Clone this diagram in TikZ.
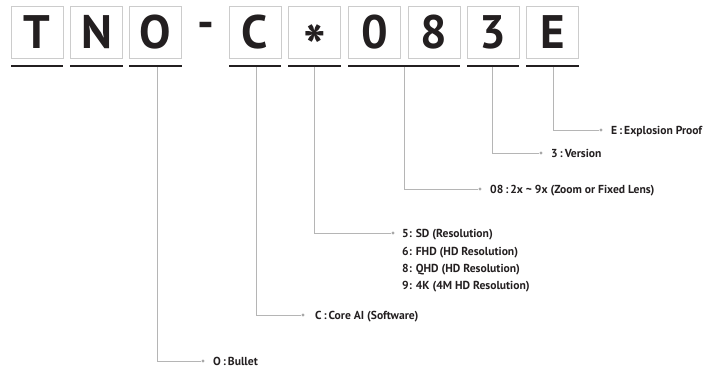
\documentclass[tikz,border=0pt]{standalone}
\usepackage{fontspec}
\setmainfont{PT Sans}
\definecolor{boxgray}{HTML}{CCCCCC}
\definecolor{linegray}{HTML}{B5B5B5}
\definecolor{dotgray}{HTML}{A8A8A8}
\definecolor{txt}{HTML}{231F20}
\begin{document}
\begin{tikzpicture}[x=1pt,y=-1pt,
  letterbox/.style={draw=boxgray, line width=0.8pt, minimum width=52pt, minimum height=52pt,
    inner sep=0pt, font=\fontsize{47}{47}\selectfont\bfseries, text=txt},
  uline/.style={line width=1.8pt, draw=txt},
  lead/.style={draw=linegray, line width=0.8pt},
  enddot/.style={circle, fill=dotgray, inner sep=0pt, minimum size=3.2pt},
  lbl/.style={anchor=base west, font=\fontsize{11.6}{14}\selectfont\bfseries, text=txt, inner sep=0pt}]
\useasboundingbox (0,0) rectangle (707,369);
% letter boxes
\node[letterbox] (bT) at (37,32) {T};
\node[letterbox] (bN) at (96.5,32) {N};
\node[letterbox] (bO) at (155.5,32) {O};
\node[text=txt, font=\fontsize{47}{47}\selectfont\bfseries, inner sep=0pt] (hy) at (206,30) {-};
\node[letterbox, text height=33pt, text depth=0pt] (bS) at (314.5,32) {\raisebox{-20pt}{\fontsize{60}{60}\selectfont *}};
\node[letterbox] (bC) at (255,32) {C};
\node[letterbox] (b0) at (374.5,32) {0};
\node[letterbox] (b8) at (434,32) {8};
\node[letterbox] (b3) at (493,32) {3};
\node[letterbox] (bE) at (552.5,32) {E};
% underlines
\draw[uline] (11,66) -- (63,66);
\draw[uline] (70,66) -- (123,66);
\draw[uline] (129,66) -- (182,66);
\draw[uline] (229,66) -- (281,66);
\draw[uline] (288,66) -- (341,66);
\draw[uline] (348,66) -- (460,66);
\draw[uline] (467,66) -- (519,66);
\draw[uline] (526,66) -- (579,66);
% start coordinates
\coordinate (sO) at (157,67);
\coordinate (sC) at (256,67);
\coordinate (sS) at (314,67);
\coordinate (s08) at (404,67);
\coordinate (s3) at (492,67);
\coordinate (sE) at (553,67);
% end dots
\node[enddot] (dO) at (203,361) {};
\node[enddot] (dC) at (303,315) {};
\node[enddot] (dS) at (393,233) {};
\node[enddot] (d08) at (480,189) {};
\node[enddot] (d3) at (541,153) {};
\node[enddot] (dE) at (601,130) {};
% leads
\draw[lead] (sO) |- (dO);
\draw[lead] (sC) |- (dC);
\draw[lead] (sS) |- (dS);
\draw[lead] (s08) |- (d08);
\draw[lead] (s3) |- (d3);
\draw[lead] (sE) |- (dE);
% labels
\node[lbl] (lO) at (213,365) {O\,:\,Bullet};
\node[lbl] (lC) at (315,319) {C\,:\,Core AI (Software)};
\node[lbl] (lS1) at (402,237) {5: SD (Resolution)};
\node[lbl] (lS2) at (402,255) {6: FHD (HD Resolution)};
\node[lbl] (lS3) at (402,272) {8: QHD (HD Resolution)};
\node[lbl] (lS4) at (402,289) {9: 4K (4M HD Resolution)};
\node[lbl] (l08) at (490,193) {08\,:\,2x \textasciitilde\ 9x (Zoom or Fixed Lens)};
\node[lbl] (l3) at (551,157) {3\,:\,Version};
\node[lbl] (lE) at (611,134) {E\,:\,Explosion Proof};
\end{tikzpicture}
\end{document}
